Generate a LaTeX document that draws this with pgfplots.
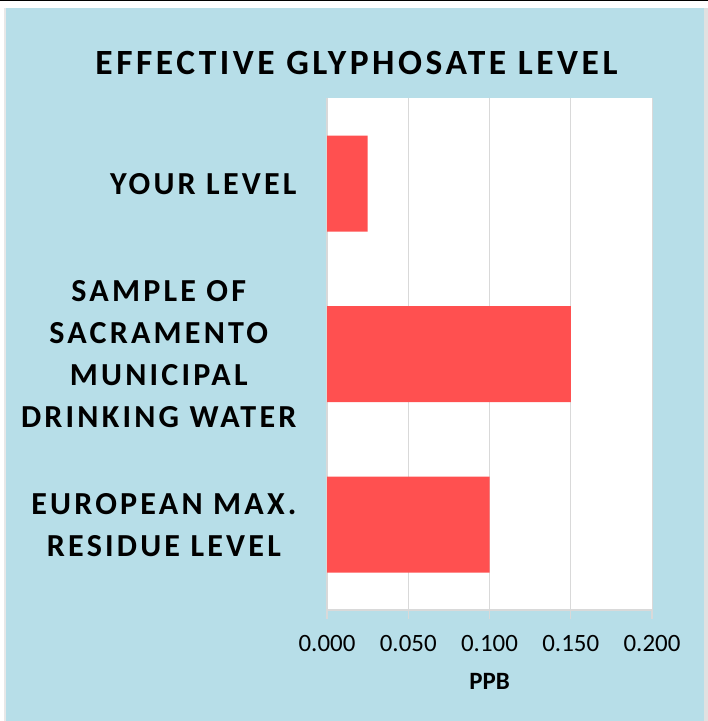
\documentclass[border=0pt]{standalone}
\usepackage{fontspec}
\usepackage{pgfplots}
\pgfplotsset{compat=1.18}
\setmainfont{Carlito}
\newfontfamily\calsp{Carlito}[LetterSpace=10]
\definecolor{bgblue}{HTML}{B7DEE8}
\definecolor{barred}{HTML}{FF5050}
\definecolor{gridgray}{HTML}{D9D9D9}
\begin{document}
\begin{tikzpicture}[x=1bp,y=1bp]
\fill[white] (0,0) rectangle (708,721);
\fill[black] (0,719.5) rectangle (708,721);
\fill[gridgray!60] (4,0) rectangle (6,713);
\fill[bgblue] (6,0) rectangle (704,713);
\fill[gridgray!80] (704,0) rectangle (708,713);
\node[anchor=base, inner sep=0pt, font=\calsp\bfseries\fontsize{35.6}{42}\selectfont] at (356.5,646.7) {EFFECTIVE GLYPHOSATE LEVEL};
\begin{axis}[
  at={(327bp,111bp)}, anchor=south west,
  scale only axis, width=325bp, height=511.5bp,
  axis background/.style={fill=white},
  xbar, bar width=96bp,
  xmin=0, xmax=0.2, ymin=-0.5, ymax=2.5,
  xtick={0,0.05,0.1,0.15,0.2},
  /pgf/number format/fixed,
  /pgf/number format/fixed zerofill,
  /pgf/number format/precision=3,
  /pgf/number format/assume math mode=true,
  ytick={0,1,2},
  yticklabels={{EUROPEAN MAX.\\RESIDUE LEVEL},{SAMPLE OF\\SACRAMENTO\\MUNICIPAL\\DRINKING WATER},{YOUR LEVEL}},
  yticklabel style={align=center, font=\calsp\bfseries\fontsize{32.2}{42}\selectfont, xshift=-18bp},
  xticklabel style={font=\fontsize{25}{30}\selectfont, yshift=-13bp},
  minor ytick={-0.5,0.5,1.5,2.5},
  tick align=outside,
  major tick length=9bp, minor tick length=10bp,
  ytick style={draw=none},
  minor tick style={draw=gridgray, line width=1.2pt},
  xtick style={draw=gridgray, line width=1.2pt},
  axis x line*=bottom, axis y line*=left,
  axis line style={draw=gridgray, line width=1.2pt, -},
  xmajorgrids, major grid style={draw=gridgray, line width=1pt},
  xlabel={PPB},
  xlabel style={font=\bfseries\fontsize{25}{30}\selectfont, yshift=-15bp},
  clip=false,
]
\addplot[fill=barred, draw=none] coordinates {(0.1,0) (0.15,1) (0.025,2)};
\end{axis}
\end{tikzpicture}
\end{document}
